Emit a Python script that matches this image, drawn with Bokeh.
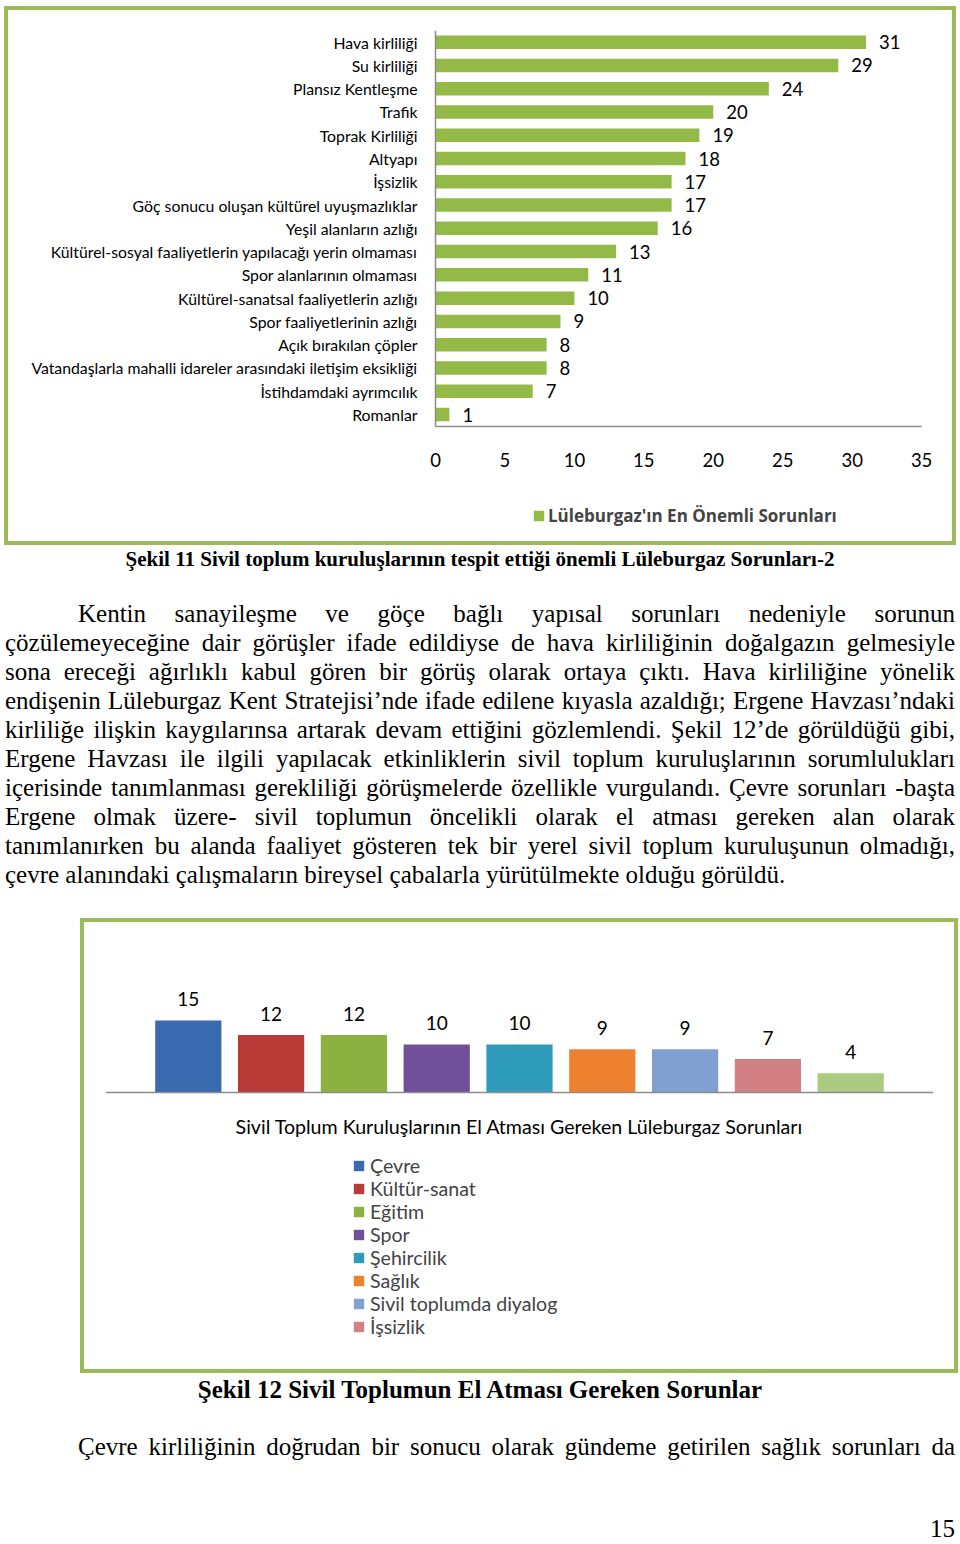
from bokeh.plotting import figure
from bokeh.models import (ColumnDataSource, Range1d, Legend, LegendItem, Div, FixedTicker,
                          LinearAxis)
from bokeh.layouts import column
from bokeh.core.properties import value
from bokeh.embed import file_html
from bokeh.resources import INLINE

# ---------------- data ----------------
problems = ["Hava kirliliği", "Su kirliliği", "Plansız Kentleşme", "Trafik", "Toprak Kirliliği",
            "Altyapı", "İşsizlik", "Göç sonucu oluşan kültürel uyuşmazlıklar",
            "Yeşil alanların azlığı", "Kültürel-sosyal faaliyetlerin yapılacağı yerin olmaması",
            "Spor alanlarının olmaması", "Kültürel-sanatsal faaliyetlerin azlığı",
            "Spor faaliyetlerinin azlığı", "Açık bırakılan çöpler",
            "Vatandaşlarla mahalli idareler arasındaki iletişim eksikliği",
            "İstihdamdaki ayrımcılık", "Romanlar"]
problem_counts = [31, 29, 24, 20, 19, 18, 17, 17, 16, 13, 11, 10, 9, 8, 8, 7, 1]
x_ticks1 = [0, 5, 10, 15, 20, 25, 30, 35]
series1_name = "Lüleburgaz'ın En Önemli Sorunları"

areas = ["Çevre", "Kültür-sanat", "Eğitim", "Spor", "Şehircilik", "Sağlık",
         "Sivil toplumda diyalog", "İşsizlik", "Diğer"]
area_counts = [15, 12, 12, 10, 10, 9, 9, 7, 4]
area_colors = ["#3a6bb0", "#b93a37", "#8db141", "#71509a", "#2f9bbb", "#ee8130",
               "#819fcf", "#d28082", "#accb80"]
category2 = "Sivil Toplum Kuruluşlarının El Atması Gereken Lüleburgaz Sorunları"
legend2_count = 8

caption1 = "Şekil 11 Sivil toplum kuruluşlarının tespit ettiği önemli Lüleburgaz Sorunları-2"
caption2 = "Şekil 12 Sivil Toplumun El Atması Gereken Sorunlar"
para_lines = [
    "Kentin sanayileşme ve göçe bağlı yapısal sorunları nedeniyle sorunun",
    "çözülemeyeceğine dair görüşler ifade edildiyse de hava kirliliğinin doğalgazın gelmesiyle",
    "sona ereceği ağırlıklı kabul gören bir görüş olarak ortaya çıktı. Hava kirliliğine yönelik",
    "endişenin Lüleburgaz Kent Stratejisi’nde ifade edilene kıyasla azaldığı; Ergene Havzası’ndaki",
    "kirliliğe ilişkin kaygılarınsa artarak devam ettiğini gözlemlendi. Şekil 12’de görüldüğü gibi,",
    "Ergene Havzası ile ilgili yapılacak etkinliklerin sivil toplum kuruluşlarının sorumlulukları",
    "içerisinde tanımlanması gerekliliği görüşmelerde özellikle vurgulandı. Çevre sorunları -başta",
    "Ergene olmak üzere- sivil toplumun öncelikli olarak el atması gereken alan olarak",
    "tanımlanırken bu alanda faaliyet gösteren tek bir yerel sivil toplum kuruluşunun olmadığı,",
    "çevre alanındaki çalışmaların bireysel çabalarla yürütülmekte olduğu görüldü.",
]
last_line = "Çevre kirliliğinin doğrudan bir sonucu olarak gündeme getirilen sağlık sorunları da"
page_number = "15"

# ---------------- styles ----------------
FONT = "Lato"
SERIF = "'Liberation Serif', 'Times New Roman', serif"
BORDER = {"border": "4px solid #9bbb59"}
AXIS_GRAY = "#8c8c8c"

# ---------------- chart 1 (horizontal bars) ----------------
n1 = len(problems)
pos1 = [n1 - i for i in range(n1)]          # top category highest
src1 = ColumnDataSource(dict(pos=pos1, cat=problems, val=problem_counts,
                             lab=[str(v) for v in problem_counts]))
p1 = figure(width=952, height=539, x_range=Range1d(-0.72, 36.0),
            y_range=Range1d(-4.285, n1 + 0.5),
            output_backend="svg", toolbar_location=None,
            min_border_left=417, min_border_right=25, min_border_top=20,
            min_border_bottom=12)
p1.styles = BORDER
r1 = p1.hbar(y="pos", right="val", left=0, height=0.58, source=src1,
             fill_color="#93b946", line_color=None)
p1.text(x="val", y="pos", text="lab", source=src1, x_offset=13, text_align="left",
        text_baseline="middle", text_font_size="18.5px", text_font=value(FONT),
        text_color="#000000")
p1.xgrid.visible = False
p1.ygrid.visible = False
p1.outline_line_color = None

xax1 = p1.xaxis[0]
xax1.ticker = FixedTicker(ticks=x_ticks1)
xax1.fixed_location = 0.5
xax1.bounds = (0, 35)
xax1.major_label_text_font_size = "18.5px"
xax1.major_label_standoff = 27

yax1 = p1.yaxis[0]                      # axis line at x = 0
yax1.ticker = FixedTicker(ticks=[])
yax1.fixed_location = 0
yax1.bounds = (0.5, n1 + 0.5)

for ax in (xax1, yax1):
    ax.major_tick_line_color = None
    ax.minor_tick_line_color = None
    ax.major_tick_out = 0
    ax.minor_tick_out = 0
    ax.axis_line_color = AXIS_GRAY
    ax.axis_line_width = 1.5
    ax.major_label_text_font = FONT
    ax.major_label_text_color = "#000000"

ylab1 = LinearAxis(ticker=FixedTicker(ticks=pos1),
                   major_label_overrides={p: c for p, c in zip(pos1, problems)},
                   axis_line_color=None, major_tick_line_color=None,
                   minor_tick_line_color=None, major_tick_out=0, minor_tick_out=0,
                   major_label_standoff=8, major_label_text_font=FONT,
                   major_label_text_font_size="15.8px", major_label_text_color="#000000")
p1.add_layout(ylab1, "left")

leg1 = Legend(items=[LegendItem(label=series1_name, renderers=[r1])], location=(107, 10),
              padding=0, margin=0, glyph_width=13, glyph_height=13, label_standoff=3,
              label_text_font="Open Sans", label_text_font_style="bold",
              label_text_font_size="17px", label_height=20,
              background_fill_alpha=0, border_line_color=None)
p1.add_layout(leg1)
p1.margin = (6, 0, 0, 4)

# ---------------- chart 2 (columns) ----------------
src2 = ColumnDataSource(dict(pos=[i + 1 for i in range(len(areas))], val=area_counts,
                             color=area_colors, name=areas,
                             lab=[str(v) for v in area_counts]))
p2 = figure(width=878, height=455, x_range=Range1d(0, 10), y_range=Range1d(-56.875, 29.58),
            output_backend="svg", toolbar_location=None,
            min_border_left=21, min_border_right=29, min_border_top=28,
            min_border_bottom=12)
p2.styles = BORDER
r2 = p2.vbar(x="pos", top="val", bottom=0, width=0.8, source=src2,
             fill_color="color", line_color=None)
p2.text(x="pos", y="val", text="lab", source=src2, y_offset=-21, text_align="center",
        text_baseline="middle", text_font_size="19px", text_font=value(FONT),
        text_color="#000000")
p2.xgrid.visible = False
p2.ygrid.visible = False
p2.outline_line_color = None
p2.yaxis.visible = False
xax2 = p2.xaxis[0]
xax2.fixed_location = 0
xax2.ticker = FixedTicker(ticks=[])
xax2.major_tick_line_color = None
xax2.minor_tick_line_color = None
xax2.major_tick_out = 0
xax2.minor_tick_out = 0
xax2.axis_line_color = AXIS_GRAY
xax2.axis_line_width = 1.5
xax2.axis_label = category2
xax2.axis_label_text_font = FONT
xax2.axis_label_text_font_style = "normal"
xax2.axis_label_text_font_size = "19.6px"
xax2.axis_label_text_color = "#000000"
xax2.axis_label_standoff = 22

leg2 = Legend(items=[LegendItem(label=areas[i], renderers=[r2], index=i)
                     for i in range(legend2_count)],
              location=(247, 27), padding=0, margin=0, spacing=0,
              glyph_width=13, glyph_height=13, label_standoff=5, label_height=23,
              label_text_font=FONT, label_text_font_size="19.6px",
              background_fill_alpha=0, border_line_color=None)
p2.add_layout(leg2)
p2.margin = (29, 0, 0, 80)

# ---------------- text blocks ----------------
def line_div(txt, last=False, indent=0):
    align_last = "left" if last else "justify"
    return (f'<div style="text-align:justify;text-align-last:{align_last};'
            f'text-indent:{indent}px;">{txt}</div>')

cap1 = Div(text=f'<div style="font-family:{SERIF};font-size:21px;font-weight:bold;'
                f'line-height:24px;text-align:center;width:950px;">{caption1}</div>',
           width=950, height=24, margin=(2, 0, 0, 5))

body = "".join(line_div(t, last=(i == len(para_lines) - 1), indent=(73 if i == 0 else 0))
               for i, t in enumerate(para_lines))
para = Div(text=f'<div style="font-family:{SERIF};font-size:25px;line-height:29px;'
                f'width:950px;color:#000;">{body}</div>',
           width=950, height=290, margin=(28, 0, 0, 5))

cap2 = Div(text=f'<div style="font-family:{SERIF};font-size:25px;font-weight:bold;'
                f'line-height:29px;text-align:center;width:950px;">{caption2}</div>',
           width=950, height=29, margin=(2, 0, 0, 5))

tail = Div(text=f'<div style="font-family:{SERIF};font-size:25px;line-height:29px;'
                f'width:950px;color:#000;">{line_div(last_line, indent=73)}</div>',
           width=950, height=29, margin=(28, 0, 0, 5))

pnum = Div(text=f'<div style="font-family:{SERIF};font-size:25px;line-height:22px;'
                f'width:950px;text-align:right;">{page_number}</div>',
           width=950, height=22, margin=(57, 0, 0, 5))

layout = column(column(p1), cap1, para, column(p2), cap2, tail, pnum, spacing=0)

open("out.html", "w").write(file_html(layout, INLINE))
